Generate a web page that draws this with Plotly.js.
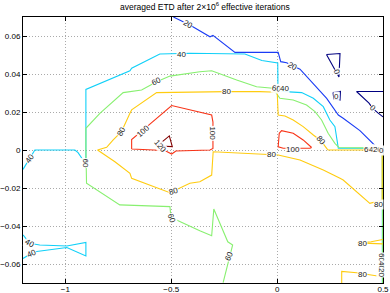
<!DOCTYPE html>
<html><head><meta charset="utf-8">
<script src="https://cdn.plot.ly/plotly-3.0.1.min.js"></script>
<style>html,body{margin:0;padding:0;background:#fff}#chart{width:390px;height:293px}</style>
</head><body><div id="chart"></div>
<script>
// contour level 0 (navy)
var c0ax = [0.233,0.297,0.292,0.233];
var c0ay = [0.0503,0.0508,0.0384,0.0503];
var c0bx = [0.264,0.299,0.297,0.268,0.264];
var c0by = [0.0303,0.0308,0.0263,0.0268,0.0303];
var c0cx = [0.5,0.375,0.434,0.4525,0.476,0.5];
var c0cy = [0.0308,0.0308,0.0247,0.0218,0.0195,0.0174];
// level 20
var c20x = [-0.490,-0.412,-0.317,-0.303,-0.199,0.005,0.017,0.045,0.108,0.171,0.234,0.289,0.312,0.391,0.446,0.476,0.5];
var c20y = [0.0700,0.0658,0.0596,0.0603,0.0514,0.0514,0.0465,0.0459,0.0425,0.0351,0.0272,0.0184,0.0167,0.0102,0.0044,0.0008,0.0];
// level 40
var c40ax = [-1.2,-1.168,-1.144,-0.955,-0.940,-0.915,-0.903,-0.903,-0.837,-0.695,-0.687,-0.554,-0.412,-0.152,-0.072,-0.003,0.003,0.004,0.037,0.116,0.171,0.218,0.249,0.273,0.289,0.448,0.497,0.497];
var c40ay = [-0.0102,-0.0044,0,0,-0.0014,-0.0055,-0.0053,0.0319,0.0351,0.0417,0.0430,0.0505,0.0509,0.0505,0.0471,0.0461,0.0458,0.0316,0.0307,0.0302,0.0272,0.0228,0.0158,0.0123,0.0009,0.0009,0.0005,-0.07];
var c40bx = [-1.2,-1.168,-1.121,-0.993,-0.903,-0.903,-0.993,-1.135,-1.159,-1.2];
var c40by = [-0.0447,-0.0491,-0.0500,-0.0505,-0.0487,-0.0558,-0.0513,-0.0534,-0.0544,-0.0571];
// level 60
var c60x = [-0.255,-0.226,-0.210,-0.233,-0.299,-0.309,-0.365,-0.475,-0.502,-0.506,-0.743,-0.900,-0.903,-0.903,-0.903,-0.837,-0.727,-0.640,-0.569,-0.506,-0.365,-0.309,-0.191,-0.097,-0.020,0.005,0.013,0.076,0.139,0.179,0.210,0.241,0.273,0.292,0.498,0.498];
var c60y = [-0.0698,-0.0562,-0.0500,-0.0483,-0.0311,-0.0451,-0.0425,-0.0368,-0.0351,-0.0298,-0.0289,-0.0175,-0.0088,0.0004,0.0114,0.0193,0.0302,0.0316,0.0359,0.0389,0.0412,0.0417,0.0368,0.0333,0.0325,0.0281,0.0272,0.0263,0.0237,0.0202,0.0158,0.0088,0.0035,0.0013,0.0010,-0.07];
// level 80
var c80ax = [0.496,0.241,0.234,0.207,0.171,0.123,0.076,0.037,0.005,0.0005,-0.081,-0.239,-0.569,-0.687,-0.695,-0.735,-0.774,-0.805,-0.848,-0.766,-0.695,-0.687,-0.506,-0.412,-0.365,-0.309,-0.302,-0.050,0.005,0.108,0.218,0.297,0.312,0.438,0.496,0.496];
var c80ay = [0,0,0.0009,0.0049,0.0079,0.0123,0.0158,0.0179,0.0184,0.0304,0.0307,0.0307,0.0302,0.0211,0.0193,0.0096,0.0053,0.0014,0,-0.0062,-0.0123,-0.0149,-0.0225,-0.0175,-0.0167,-0.0132,-0.0009,-0.0026,-0.0026,-0.0053,-0.0105,-0.0149,-0.0158,-0.0281,-0.0263,0];
var c80bx = [0.499,0.444,0.38,0.444,0.499];
var c80by = [-0.0471,-0.0483,-0.0489,-0.0492,-0.0494];
var c80cx = [0.305,0.305,0.376,0.446,0.497];
var c80cy = [-0.07,-0.0639,-0.0646,-0.0658,-0.0667];
// level 100
var c100ax = [-0.687,-0.687,-0.634,-0.498,-0.309,-0.303,-0.303,-0.317,-0.478,-0.498,-0.530,-0.687];
var c100ay = [0.0005,0.0055,0.0105,0.0234,0.0184,0.0147,0.0008,0,-0.0005,-0.0021,-0.0003,0.0005];
var c100bx = [0.163,0.123,0.076,0.021,0.010,0.005,0.029,0.155,0.163];
var c100by = [0.0013,0.0053,0.0088,0.0102,0.0088,0.0017,0.0009,0.0009,0.0013];
// level 120
var c120x = [-0.563,-0.509,-0.495,-0.563];
var c120y = [0.0024,0.0074,0.0018,0.0021];

// contour labels
var labText  = ["20","40","60","80","100","120","100","80","60","40","20","80","100","0","0","0","40","60","80","60","80","80","60","80","80","40","40","60","40","20","0","60","40","20"];
var labX     = [-0.4214,-0.4497,-0.5692,-0.7345,-0.634,-0.5513,-0.3033,-0.2385,-0.0033,0.0345,0.0746,0.2069,0.0761,0.2825,0.2825,0.4525,-1.1677,-0.9055,-0.4908,-0.4984,-0.026,0.4776,-0.2263,0.4053,0.4053,-1.1677,-1.1583,0.4336,0.457,0.476,0.4937,0.4903,0.4903,0.4903];
var labY     = [0.0658,0.0505,0.0358,0.0096,0.0100,0.0018,0.0088,0.0307,0.0326,0.0324,0.0442,0.0049,0.0004,0.0408,0.0284,0.0218,-0.0044,-0.0068,-0.0219,-0.0359,-0.0026,-0.0289,-0.0562,-0.0491,-0.0653,-0.0491,-0.0544,0.0005,0.0005,0.0005,0.0,-0.0568,-0.061,-0.0647];
var labAngle = [30,0,-25,-62,-42,50,90,0,10,0,30,50,0,70,0,40,-55,90,-15,70,0,0,-65,0,0,30,-25,0,0,0,0,90,90,90];

var colors = {0:'#000080',20:'#1a3cf5',40:'#10d0f8',60:'#88f070',80:'#ffcc10',100:'#f83418',120:'#800000'};
function tr(x,y,lvl){return {x:x,y:y,type:'scatter',mode:'lines',line:{color:colors[lvl],width:1.1},hoverinfo:'skip',showlegend:false};}
var data = [
 tr(c0ax,c0ay,0),tr(c0bx,c0by,0),tr(c0cx,c0cy,0),
 tr(c20x,c20y,20),
 tr(c40ax,c40ay,40),tr(c40bx,c40by,40),
 tr(c60x,c60y,60),
 tr(c80ax,c80ay,80),tr(c80bx,c80by,80),tr(c80cx,c80cy,80),
 tr(c100ax,c100ay,100),tr(c100bx,c100by,100),
 tr(c120x,c120y,120)
];
var ann = labText.map(function(t,i){return {x:labX[i],y:labY[i],xref:'x',yref:'y',text:t,showarrow:false,textangle:labAngle[i],
  font:{family:'Liberation Sans, Arial, sans-serif',size:8,color:'#222'},bgcolor:'rgba(255,255,255,0.9)',borderpad:0};});
var ax = {showline:true,linecolor:'#000',linewidth:1,mirror:'ticks',ticks:'inside',ticklen:4,tickcolor:'#000',
  showgrid:true,gridcolor:'#aaa',griddash:'1px,2px',gridwidth:1,zeroline:false,
  tickfont:{family:'Liberation Sans, Arial, sans-serif',size:8,color:'#000'}};
var layout = {
 width:390,height:293,paper_bgcolor:'#fff',plot_bgcolor:'#fff',
 margin:{l:23,r:7,t:17,b:10},
 title:{text:'averaged ETD after 2×10<sup>6</sup> effective iterations',x:0.505,xref:'paper',y:0.977,yanchor:'middle',
   font:{family:'Liberation Sans, Arial, sans-serif',size:8.5,color:'#000'}},
 xaxis:Object.assign({},ax,{range:[-1.2,0.5],tickvals:[-1,-0.5,0,0.5],ticklabelstandoff:-2}),
 yaxis:Object.assign({},ax,{range:[-0.07,0.07],tick0:0,dtick:0.02}),
 annotations:ann,showlegend:false
};
Plotly.newPlot('chart',data,layout,{staticPlot:true,displayModeBar:false});
</script></body></html>
